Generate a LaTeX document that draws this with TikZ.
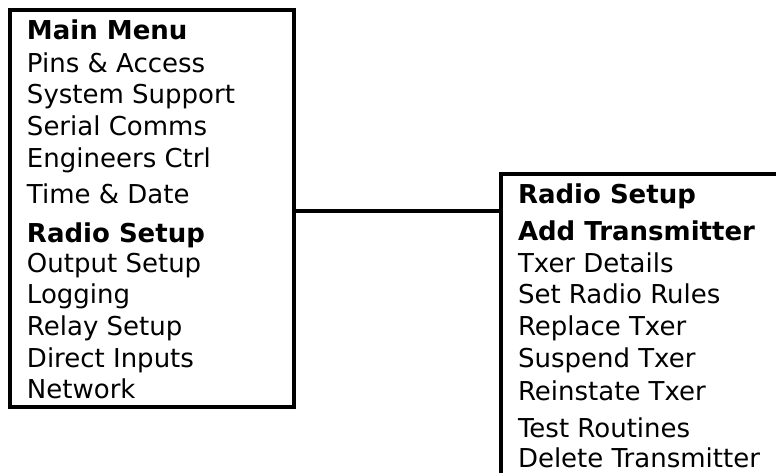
\documentclass[tikz,border=0pt]{standalone}
\usepackage{fontspec}
\setmainfont{DejaVu Sans}

\begin{document}
\begin{tikzpicture}
[-,line width=4pt,x=1pt,y=-1pt,%
  box/.style={shape=rectangle,draw,line width=4pt,inner sep=0pt,outer sep=0pt,anchor=north west},%
  item/.style={anchor=base west,inner sep=0pt,font=\fontsize{26}{30}\selectfont},%
  head/.style={item,font=\fontsize{26}{30}\selectfont\bfseries}]
\useasboundingbox (0,0) rectangle (776,472);
\clip (0,0) rectangle (776,472);
% main menu
\node[box,minimum width=284pt,minimum height=397pt] (mainmenu) at (10,10) {};
\node[head] (mm) at (25,39) {Main Menu};
\node[item] (pins) at (25,72) {Pins \& Access};
\node[item] (sys) at (25,103) {System Support};
\node[item] (serial) at (25,135) {Serial Comms};
\node[item] (eng) at (25,167) {Engineers Ctrl};
\node[item] (time) at (25,203) {Time \& Date};
\node[head] (radio) at (25,242) {Radio Setup};
\node[item] (output) at (25,272) {Output Setup};
\node[item] (logging) at (25,303) {Logging};
\node[item] (relay) at (25,335) {Relay Setup};
\node[item] (direct) at (25,367) {Direct Inputs};
\node[item] (network) at (25,398) {Network};
% radio setup
\node[box,minimum width=320pt,minimum height=340pt] (radiomenu) at (501,174) {};
\node[head] (rs) at (516,203) {Radio Setup};
\node[head] (add) at (516,240) {Add Transmitter};
\node[item] (details) at (516,272) {Txer Details};
\node[item] (rules) at (516,303) {Set Radio Rules};
\node[item] (replace) at (516,335) {Replace Txer};
\node[item] (suspend) at (516,367) {Suspend Txer};
\node[item] (reinstate) at (516,400) {Reinstate Txer};
\node[item] (test) at (516,437) {Test Routines};
\node[item] (delete) at (516,467) {Delete Transmitter};
\draw ([yshift=-2.5pt]mainmenu.east) -- ([yshift=-2.5pt]mainmenu.east -| radiomenu.west);
\end{tikzpicture}
\end{document}
